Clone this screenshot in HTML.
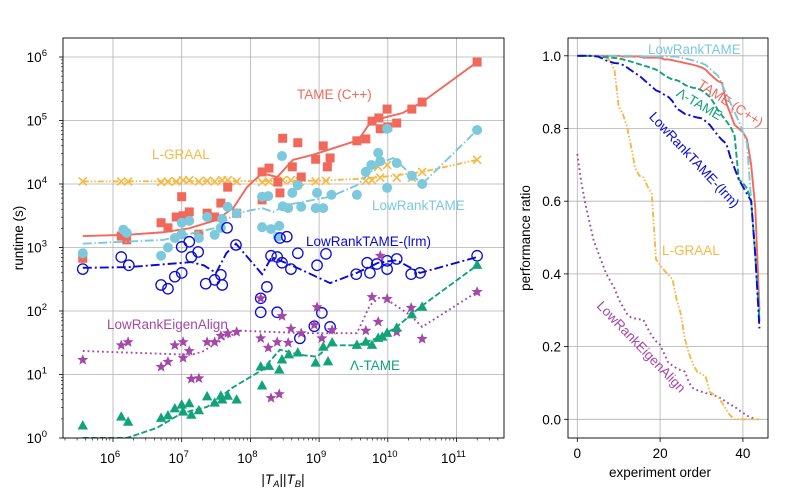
<!DOCTYPE html>
<html><head><meta charset="utf-8"><style>
body{margin:0;background:#fff;}
svg{display:block;font-family:"Liberation Sans","DejaVu Sans",sans-serif;}
</style></head><body>
<svg id="fig" width="800" height="500" viewBox="0 0 800 500" xmlns="http://www.w3.org/2000/svg">
<defs>
<clipPath id="clipL"><rect x="63" y="38" width="441" height="400"/></clipPath>
<clipPath id="clipR"><rect x="568" y="38" width="200" height="400"/></clipPath>
</defs>
<rect width="800" height="500" fill="#fff"/>
<g id="left"></g>
<g id="right"></g>
</svg>
<script>
// ===== Left panel data (log10 of |TA||TB| and log10 of runtime seconds) =====
const tameLogSize = [5.56,6.12,6.2,6.7,6.8,6.92,7.0,7.02,7.11,7.25,7.37,7.48,7.57,7.67,7.8,8.17,8.27,8.17,8.4,8.43,8.47,8.61,8.69,8.74,8.95,9.06,9.12,9.16,9.55,9.68,9.77,9.87,9.89,9.99,10.0,10.13,10.35,10.5,11.3];
const tameLogTime = [2.83,3.18,3.12,3.39,3.31,3.48,3.8,3.5,3.56,3.21,3.54,3.48,3.7,3.95,3.54,4.19,4.25,3.75,4.03,3.86,4.72,4.27,4.65,4.11,4.39,4.6,4.27,4.41,4.68,4.71,4.99,5.04,4.87,5.18,4.9,4.96,5.18,5.29,5.92];
const tameTrendSize = [5.56,6.2,6.73,7.1,7.5,7.75,7.95,8.17,8.39,8.62,8.91,9.57,9.74,9.93,10.22,10.5,11.3];
const tameTrendTime = [3.18,3.2,3.24,3.3,3.43,3.62,3.95,4.17,4.11,4.38,4.46,4.69,4.96,5.04,5.12,5.29,5.92];

const lrtLogSize = [5.56,6.15,6.2,6.7,6.8,6.9,7.0,7.0,7.11,7.25,7.37,7.48,7.57,7.59,7.67,7.8,8.17,8.26,8.46,8.61,8.47,8.55,8.74,8.69,8.17,8.3,8.42,8.4,8.97,8.95,9.06,9.18,9.55,9.68,9.76,9.86,9.89,9.99,9.99,10.13,10.35,10.5,11.3];
const lrtLogTime = [2.91,3.28,3.23,2.87,3.0,3.15,3.39,3.21,3.42,3.15,3.48,3.2,3.31,3.45,3.64,3.54,3.8,3.81,4.44,3.86,3.65,3.62,3.64,3.98,3.32,3.29,3.34,3.17,3.86,3.62,3.62,3.83,3.83,4.19,4.3,4.49,4.36,4.87,3.94,4.33,4.13,4.0,4.85];
const lrtTrendSize = [5.56,6.73,7.5,7.79,8.17,8.33,8.53,9.16,9.55,9.89,10.08,10.3,10.5,11.3];
const lrtTrendTime = [3.06,3.12,3.31,3.54,3.62,3.56,3.67,3.8,3.98,4.33,4.41,4.19,4.0,4.85];

const lgraalLogSize = [5.56,6.12,6.22,6.7,6.8,6.92,7.02,7.11,7.25,7.37,7.48,7.59,7.67,7.8,8.17,8.27,8.39,8.47,8.59,8.72,8.95,9.1,9.68,9.77,9.86,9.89,9.99,10.13,10.35,10.5,11.3];
const lgraalLogTime = [4.04,4.04,4.04,4.03,4.04,4.04,4.06,4.06,4.04,4.05,4.04,4.06,4.06,4.04,4.03,4.04,4.03,4.06,4.06,4.04,4.04,4.05,4.05,4.06,4.27,4.1,4.3,4.1,4.1,4.19,4.38];
const lgraalTrendSize = [5.56,9.0,9.55,10.0,10.5,11.3];
const lgraalTrendTime = [4.04,4.05,4.08,4.12,4.19,4.38];

const lrmLogSize = [5.56,6.12,6.23,6.7,6.8,6.9,7.0,7.0,7.11,7.14,7.24,7.35,7.48,7.57,7.59,7.66,7.79,8.15,8.15,8.24,8.3,8.39,8.39,8.46,8.59,8.69,8.97,9.1,9.04,8.93,9.16,8.72,9.54,9.7,9.74,9.84,9.99,9.99,10.13,10.34,10.47,11.3,8.43,8.53];
const lrmLogTime = [2.66,2.85,2.72,2.41,2.35,2.54,2.6,3.01,3.09,2.85,2.93,2.43,2.49,2.57,2.41,3.31,3.04,2.2,1.98,2.38,2.87,2.85,1.98,2.76,2.66,2.91,2.72,2.9,1.97,1.76,1.75,1.57,2.58,2.76,2.6,2.74,2.79,2.66,2.82,2.58,2.6,2.87,3.15,3.17];
const lrmTrendSize = [5.56,6.22,7.14,7.32,7.5,7.65,7.79,8.17,8.31,8.68,9.16,9.55,9.86,10.13,10.47,11.3];
const lrmTrendTime = [2.68,2.69,2.77,2.72,2.6,2.91,3.06,2.58,2.85,2.68,2.44,2.6,2.76,2.8,2.6,2.85];

const lreaLogSize = [5.56,6.12,6.22,6.7,6.8,6.9,7.02,7.02,7.11,7.14,7.25,7.37,7.48,7.57,7.67,7.8,8.15,8.15,8.26,8.46,8.59,8.39,8.55,8.74,8.97,8.93,9.04,9.19,9.68,9.77,9.86,9.89,9.99,10.13,10.34,10.5,11.3,8.3,8.42];
const lreaLogTime = [1.23,1.46,1.51,1.12,1.2,1.46,1.51,1.26,1.37,0.93,0.94,1.51,1.51,1.61,1.65,1.67,2.2,1.57,1.42,1.92,1.72,1.51,1.5,1.65,2.06,1.78,1.57,1.7,1.69,2.22,1.83,2.87,2.19,1.67,2.05,1.56,2.3,0.63,0.69];
const lreaTrendSize = [5.56,7.14,7.3,7.6,7.85,8.8,9.55,9.74,9.89,10.0,10.32,10.5,11.3];
const lreaTrendTime = [1.37,1.31,1.36,1.55,1.69,1.65,1.65,2.09,2.22,2.17,1.94,1.75,2.3];

const ltameLogSize = [5.56,6.12,6.22,6.7,6.8,6.9,7.0,7.02,7.11,7.14,7.25,7.37,7.48,7.57,7.59,7.67,7.8,8.17,8.15,8.27,8.42,8.46,8.56,8.69,8.95,9.06,9.13,9.19,9.55,9.68,9.77,9.86,9.92,9.99,10.13,10.35,10.5,11.3];
const ltameLogTime = [0.19,0.33,0.25,0.31,0.35,0.46,0.52,0.41,0.54,0.36,0.43,0.65,0.55,0.66,0.6,0.66,0.6,0.82,1.12,1.13,1.07,1.23,1.31,1.34,1.18,1.43,1.2,1.5,1.46,1.51,1.46,1.57,1.59,1.65,1.73,1.94,2.06,2.72];
const ltameTrendSize = [5.56,6.2,6.64,7.0,7.37,7.75,8.17,8.43,8.72,8.97,9.16,9.55,9.89,10.13,10.47,11.3];
const ltameTrendTime = [0,0,0.16,0.39,0.49,0.8,1.07,1.39,1.31,1.28,1.46,1.46,1.59,1.75,2.06,2.72];

const xTickExps = [6,7,8,9,10,11];
const yTickExps = [0,1,2,3,4,5,6];

// ===== Right panel data (performance ratio by experiment order) =====
const profTame = [1,1,1,1,1,1,1,1,1,1,1,0.998,0.998,0.998,0.998,0.998,0.995,0.995,0.995,0.995,0.995,0.99,0.99,0.988,0.985,0.983,0.98,0.978,0.975,0.972,0.968,0.962,0.95,0.94,0.93,0.925,0.87,0.84,0.81,0.8,0.79,0.77,0.7,0.58,0.3];
const profLrt = [1,1,1,1,1,1,1,1,1,1,1,1,1,1,1,1,0.998,0.998,0.998,0.998,0.998,0.998,0.998,0.998,0.998,0.995,0.993,0.99,0.987,0.983,0.98,0.975,0.965,0.955,0.945,0.92,0.895,0.87,0.845,0.82,0.79,0.76,0.6,0.45,0.28];
const profLtame = [1,1,1,1,0.999,0.998,0.997,0.996,0.995,0.994,0.993,0.99,0.987,0.984,0.98,0.977,0.973,0.97,0.966,0.962,0.955,0.947,0.94,0.935,0.933,0.928,0.92,0.915,0.912,0.91,0.905,0.897,0.887,0.87,0.85,0.835,0.82,0.805,0.78,0.66,0.65,0.635,0.6,0.45,0.27];
const profLrm = [1,1,1,1,0.999,0.998,0.993,0.987,0.983,0.98,0.979,0.975,0.968,0.96,0.952,0.945,0.935,0.925,0.915,0.905,0.9,0.893,0.887,0.875,0.855,0.848,0.84,0.837,0.833,0.83,0.828,0.82,0.81,0.795,0.78,0.768,0.758,0.72,0.69,0.66,0.64,0.62,0.6,0.45,0.25];
const profLgraal = [1,1,1,1,1,1,1,0.998,0.985,0.96,0.86,0.84,0.805,0.75,0.69,0.67,0.665,0.64,0.62,0.44,0.425,0.41,0.397,0.385,0.33,0.29,0.22,0.18,0.15,0.13,0.125,0.118,0.075,0.068,0.062,0.045,0.025,0.01,0,0,0,0,0,0,0];
const profLrea = [0.73,0.65,0.59,0.54,0.49,0.46,0.43,0.40,0.38,0.36,0.33,0.31,0.29,0.28,0.277,0.275,0.273,0.25,0.23,0.215,0.205,0.18,0.155,0.148,0.14,0.135,0.131,0.1,0.085,0.08,0.076,0.072,0.07,0.066,0.062,0.055,0.048,0.04,0.035,0.025,0.018,0.01,0.005,0];
const profXTicks = [0,20,40];
const profYTicks = [0,0.2,0.4,0.6,0.8,1.0];

const C = {tame:'#f0695a', lrt:'#7cc8dd', lgraal:'#f7b946', lrm:'#0a0ad8', lrea:'#a348a8', ltame:'#12a37b'};
const NS = 'http://www.w3.org/2000/svg';
function mk(tag, attrs, parent){ const e=document.createElementNS(NS,tag); for(const k in attrs) e.setAttribute(k,attrs[k]); parent.appendChild(e); return e; }

const xL = e => 113 + 68.7*(e-6);
const yL = e => 438 - 63.5*e;
const xR = v => 577.3 + 4.14*v;
const yR = v => 419.3 - 363.5*v;

const left = document.getElementById('left');
const right = document.getElementById('right');

for(const e of xTickExps){
  const g = mk('line',{x1:xL(e),x2:xL(e),y1:38,y2:438,stroke:'#b0b0b0','stroke-width':0.8},left);
   
  mk('line',{x1:xL(e),x2:xL(e),y1:438,y2:442,stroke:'#000','stroke-width':0.8},left);
  const t = mk('text',{x:xL(e)-3,y:463,'font-size':13.5,'text-anchor':'middle'},left);
   
  t.textContent='10';
  const s = mk('tspan',{dy:-6,'font-size':9.5},t); s.textContent=String(e);
}
for(let d=5;d<=11;d++){ for(let m=2;m<=9;m++){ const e=d+Math.log10(m); const x=xL(e); if(x>63&&x<504) mk('line',{x1:x,x2:x,y1:438,y2:440.5,stroke:'#000','stroke-width':0.6},left);} }
for(const e of yTickExps){
  const g = mk('line',{x1:63,x2:504,y1:yL(e),y2:yL(e),stroke:'#b0b0b0','stroke-width':0.8},left);
   
  mk('line',{x1:59,x2:63,y1:yL(e),y2:yL(e),stroke:'#000','stroke-width':0.8},left);
  const t = mk('text',{x:47,y:yL(e)+5,'font-size':13.5,'text-anchor':'end'},left);
   
  t.textContent='10';
  const s = mk('tspan',{dy:-6,'font-size':9.5},t); s.textContent=String(e);
}
for(let d=0;d<=6;d++){ for(let m=2;m<=9;m++){ const y=yL(d+Math.log10(m)); if(y>38&&y<438) mk('line',{x1:61,x2:63,y1:y,y2:y,stroke:'#000','stroke-width':0.6},left);} }

const plotL = mk('g',{'clip-path':'url(#clipL)'},left);

function trend(parent, xs, ys, fx, fy, color, dash, name){
  const p = mk('polyline',{points:xs.map((v,i)=>fx(v)+','+fy(ys[i])).join(' '),fill:'none',stroke:color,'stroke-width':1.9,'stroke-dasharray':dash||'none'},parent);
   
}
function marker(parent, kind, x, y, color){
  let e;
  if(kind==='square') e = mk('rect',{x:x-4.5,y:y-4.5,width:9,height:9,fill:color},parent);
  else if(kind==='circle') e = mk('circle',{cx:x,cy:y,r:5,fill:color},parent);
  else if(kind==='ocircle') e = mk('circle',{cx:x,cy:y,r:5.2,fill:'none',stroke:color,'stroke-width':1.3},parent);
  else if(kind==='x') e = mk('path',{d:`M${x-4},${y-4}L${x+4},${y+4}M${x-4},${y+4}L${x+4},${y-4}`,stroke:color,'stroke-width':1.6,fill:'none'},parent);
  else if(kind==='tri') e = mk('path',{d:`M${x},${y-5.8}L${x+5.2},${y+3.6}L${x-5.2},${y+3.6}Z`,fill:color},parent);
  else if(kind==='star'){ let d=''; for(let i=0;i<10;i++){ const r=i%2?2.5:5.8; const a=-Math.PI/2+i*Math.PI/5; d+=(i?'L':'M')+(x+r*Math.cos(a)).toFixed(2)+','+(y+r*Math.sin(a)).toFixed(2);} e = mk('path',{d:d+'Z',fill:color},parent); }
  return e;
}
function scatter(xs, ys, kind, color, name){
  xs.forEach((v,i)=>{ const e = marker(plotL, kind, xL(v), yL(ys[i]), color);
    
     });
}
trend(plotL, lgraalTrendSize, lgraalTrendTime, xL, yL, C.lgraal, '6,2,1.5,2,1.5,2', 'lgraal-trend-line');
scatter(lgraalLogSize, lgraalLogTime, 'x', C.lgraal, 'lgraal-point');
trend(plotL, tameTrendSize, tameTrendTime, xL, yL, C.tame, null, 'tame-trend-line');
scatter(tameLogSize, tameLogTime, 'square', C.tame, 'tame-point');
trend(plotL, lrtTrendSize, lrtTrendTime, xL, yL, C.lrt, '9,2.5,1.5,2.5', 'lowranktame-trend-line');
scatter(lrtLogSize, lrtLogTime, 'circle', C.lrt, 'lowranktame-point');
trend(plotL, lrmTrendSize, lrmTrendTime, xL, yL, C.lrm, '9,3,2,3', 'lrm-trend-line');
scatter(lrmLogSize, lrmLogTime, 'ocircle', C.lrm, 'lrm-point');
trend(plotL, lreaTrendSize, lreaTrendTime, xL, yL, C.lrea, '1.8,3', 'lrea-trend-line');
scatter(lreaLogSize, lreaLogTime, 'star', C.lrea, 'lrea-point');
trend(plotL, ltameTrendSize, ltameTrendTime, xL, yL, C.ltame, '6,2.5', 'ltame-trend-line');
scatter(ltameLogSize, ltameLogTime, 'tri', C.ltame, 'ltame-point');

mk('rect',{x:63,y:38,width:441,height:400,fill:'none',stroke:'#000','stroke-width':0.9},left);

function label(parent, txt, x, y, color, name, rot, anchor){
  const t = mk('text',{x:x,y:y,'font-size':13.5,fill:color,'text-anchor':anchor||'start'},parent);
  if(rot) t.setAttribute('transform',`rotate(${rot} ${x} ${y})`);
  
  
  t.textContent = txt; return t;
}
label(left,'TAME (C++)',297,99,C.tame,'tame-label');
label(left,'L-GRAAL',152,159,C.lgraal,'lgraal-label');
label(left,'LowRankTAME',372,210,C.lrt,'lowranktame-label');
label(left,'LowRankTAME-(lrm)',306,246,C.lrm,'lrm-label');
label(left,'LowRankEigenAlign',107,329,C.lrea,'lrea-label');
label(left,'Λ-TAME',350,370,C.ltame,'ltame-label');
label(left,'runtime (s)',23,238,'#000','y-axis-title',-90,'middle');
const xt = mk('text',{x:283,y:484,'font-size':13.5,'text-anchor':'middle'},left);
 
xt.innerHTML = '|<tspan font-style="italic">T</tspan><tspan font-size="9.5" dy="3" font-style="italic">A</tspan><tspan dy="-3">||</tspan><tspan font-style="italic">T</tspan><tspan font-size="9.5" dy="3" font-style="italic">B</tspan><tspan dy="-3">|</tspan>';

for(const v of profXTicks){
  const g = mk('line',{x1:xR(v),x2:xR(v),y1:38,y2:438,stroke:'#b0b0b0','stroke-width':0.8},right);
   
  mk('line',{x1:xR(v),x2:xR(v),y1:438,y2:442,stroke:'#000','stroke-width':0.8},right);
  const t = mk('text',{x:xR(v),y:458,'font-size':13.5,'text-anchor':'middle'},right);
   
  t.textContent = String(v);
}
for(const v of profYTicks){
  const g = mk('line',{x1:568,x2:768,y1:yR(v),y2:yR(v),stroke:'#b0b0b0','stroke-width':0.8},right);
   
  mk('line',{x1:564,x2:568,y1:yR(v),y2:yR(v),stroke:'#000','stroke-width':0.8},right);
  const t = mk('text',{x:561,y:yR(v)+5,'font-size':13.5,'text-anchor':'end'},right);
   
  t.textContent = v.toFixed(1);
}
const plotR = mk('g',{'clip-path':'url(#clipR)'},right);
function prof(arr, color, dash, name){
  const p = mk('polyline',{points:arr.map((v,i)=>xR(i)+','+yR(v)).join(' '),fill:'none',stroke:color,'stroke-width':1.9,'stroke-dasharray':dash||'none'},plotR);
   
}
prof(profLrea, C.lrea, '1.8,3', 'profile-lrea');
prof(profLgraal, C.lgraal, '6,2,1.5,2,1.5,2', 'profile-lgraal');
prof(profTame, C.tame, null, 'profile-tame');
prof(profLrt, C.lrt, '9,2.5,1.5,2.5', 'profile-lowranktame');
prof(profLtame, C.ltame, '6,2.5', 'profile-ltame');
prof(profLrm, C.lrm, '9,3,2,3', 'profile-lrm');
mk('rect',{x:568,y:38,width:200,height:400,fill:'none',stroke:'#000','stroke-width':0.9},right);

label(right,'LowRankTAME',648,54,C.lrt,'profile-lowranktame-label');
label(right,'L-GRAAL',662,255,C.lgraal,'profile-lgraal-label');
label(right,'TAME (C++)',728,107,C.tame,'profile-tame-label',33,'middle');
label(right,'Λ-TAME',697,108,C.ltame,'profile-ltame-label',30,'middle');
label(right,'LowRankTAME-(lrm)',691,163,C.lrm,'profile-lrm-label',47,'middle');
label(right,'LowRankEigenAlign',638,350,C.lrea,'profile-lrea-label',46,'middle');
label(right,'experiment order',660,477,'#000','profile-x-axis-title',0,'middle');
label(right,'performance ratio',530,238,'#000','profile-y-axis-title',-90,'middle');
</script>
</body></html>
